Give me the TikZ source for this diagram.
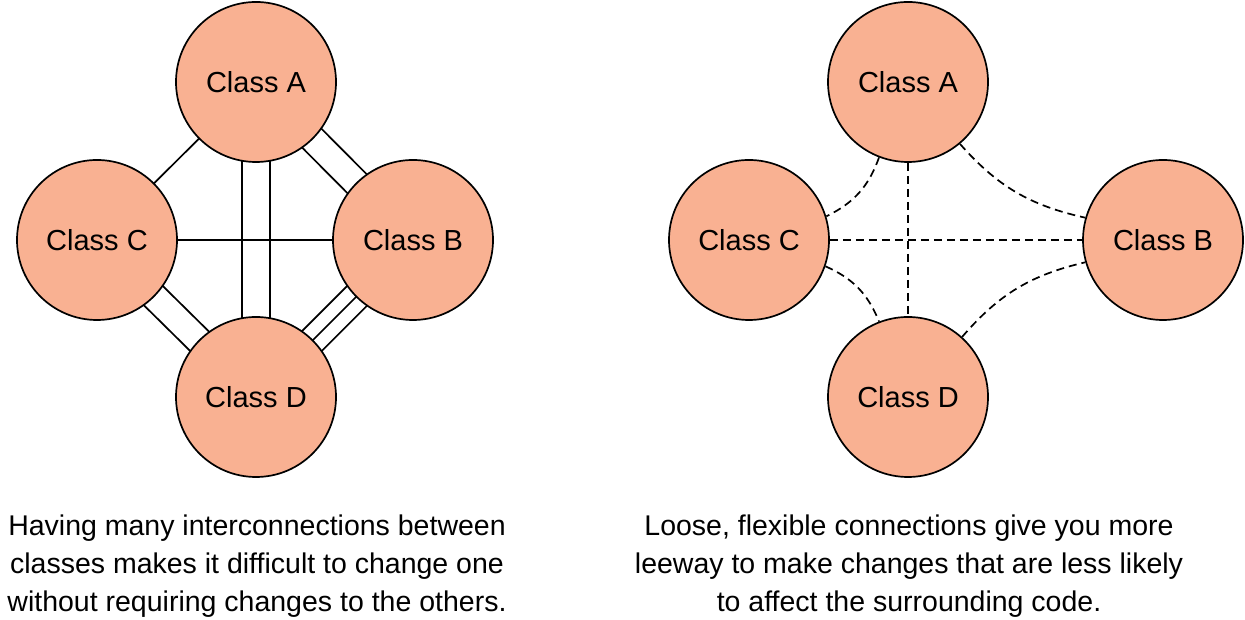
\documentclass[tikz,border=0pt]{standalone}
\usepackage{fontspec}
\setmainfont{Liberation Sans}
\usetikzlibrary{calc,backgrounds}
\definecolor{classfill}{RGB}{249,177,146}
\tikzset{
  cls/.style={circle, draw=black, line width=1.7pt, fill=classfill, minimum size=160pt, inner sep=0pt, font=\fontsize{29}{32}\selectfont},
  link/.style={line width=1.7pt},
  dlink/.style={line width=1.7pt, dash pattern=on 8pt off 5pt},
  caption/.style={align=center, font=\fontsize{28.5}{38}\selectfont}
}
\begin{document}
\begin{tikzpicture}[x=1pt,y=1pt]
\useasboundingbox (0,0) rectangle (1245,620);
% left diagram
\node[cls] (LA) at (256,538) {Class A};
\node[cls] (LC) at (97,380) {Class C};
\node[cls] (LB) at (413,380) {Class B};
\node[cls] (LD) at (256,223) {Class D};
\begin{scope}[on background layer]
\draw[link] (LA.center) -- (LC.center);
\draw[link] (LC.center) -- (LB.center);
\draw[link] ($(LA.center)!13.5pt!90:(LB.center)$) -- ($(LB.center)!13.5pt!-90:(LA.center)$);
\draw[link] ($(LA.center)!13.5pt!-90:(LB.center)$) -- ($(LB.center)!13.5pt!90:(LA.center)$);
\draw[link] ($(LA.center)!14pt!90:(LD.center)$) -- ($(LD.center)!14pt!-90:(LA.center)$);
\draw[link] ($(LA.center)!14pt!-90:(LD.center)$) -- ($(LD.center)!14pt!90:(LA.center)$);
\draw[link] ($(LC.center)!13.5pt!90:(LD.center)$) -- ($(LD.center)!13.5pt!-90:(LC.center)$);
\draw[link] ($(LC.center)!13.5pt!-90:(LD.center)$) -- ($(LD.center)!13.5pt!90:(LC.center)$);
\draw[link] (LB.center) -- (LD.center);
\draw[link] ($(LB.center)!14pt!90:(LD.center)$) -- ($(LD.center)!14pt!-90:(LB.center)$);
\draw[link] ($(LB.center)!14pt!-90:(LD.center)$) -- ($(LD.center)!14pt!90:(LB.center)$);
\end{scope}
% right diagram
\node[cls] (RA) at (908,538) {Class A};
\node[cls] (RC) at (749,380) {Class C};
\node[cls] (RB) at (1163,380) {Class B};
\node[cls] (RD) at (908,223) {Class D};
\draw[dlink] (RA) -- (RD);
\draw[dlink] (RC) -- (RB);
\draw[dlink] (RA.249) to[bend left=22] (RC.17);
\draw[dlink] (RA.310) to[bend right=18] (RB.164);
\draw[dlink] (RC.341) to[bend left=22] (RD.111);
\draw[dlink] (RD.48) to[bend left=18] (RB.196);
% captions
\node[caption] (capL) at (257,54) {Having many interconnections between\\classes makes it difficult to change one\\without requiring changes to the others.};
\node[caption] (capR) at (909,54) {Loose, flexible connections give you more\\leeway to make changes that are less likely\\to affect the surrounding code.};
\end{tikzpicture}
\end{document}
